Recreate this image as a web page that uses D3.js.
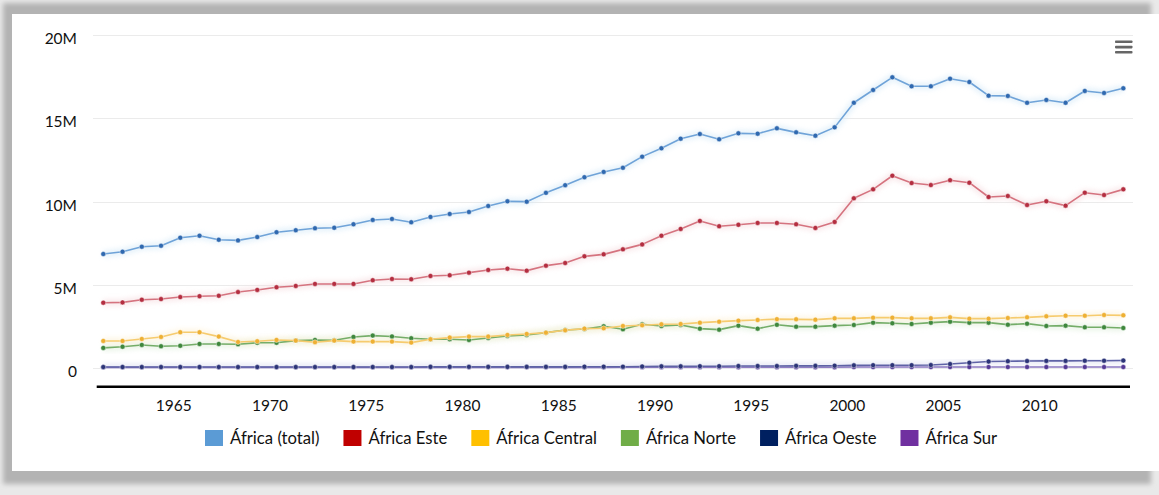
<!DOCTYPE html>
<html>
<head>
<meta charset="utf-8">
<script src="https://cdn.jsdelivr.net/npm/d3@7"></script>
<style>
  html, body { margin: 0; padding: 0; background: #e8e8e8; }
  svg { display: block; font-family: Lato, "Open Sans", sans-serif; }
</style>
</head>
<body>
<svg id="chart" width="1159" height="495"></svg>
<script>
// Years on the x axis
const years = d3.range(1961, 2015);
const xTickYears = [1965, 1970, 1975, 1980, 1985, 1990, 1995, 2000, 2005, 2010];
const yTickValues = [0, 5e6, 10e6, 15e6, 20e6];

// Series values, millions
const africaTotal = [6.84, 6.98, 7.28, 7.34, 7.82, 7.94, 7.70, 7.66, 7.86, 8.15,
  8.27, 8.39, 8.42, 8.63, 8.89, 8.95, 8.75, 9.07, 9.25, 9.37,
  9.73, 10.01, 9.99, 10.52, 10.98, 11.46, 11.78, 12.03, 12.70, 13.20,
  13.78, 14.06, 13.74, 14.10, 14.08, 14.40, 14.16, 13.96, 14.46, 15.94,
  16.71, 17.47, 16.93, 16.93, 17.39, 17.19, 16.37, 16.35, 15.94, 16.11,
  15.94, 16.65, 16.53, 16.81];
const africaEste = [3.91, 3.93, 4.09, 4.13, 4.25, 4.30, 4.33, 4.55, 4.68, 4.84,
  4.92, 5.04, 5.04, 5.04, 5.26, 5.34, 5.32, 5.52, 5.56, 5.72,
  5.88, 5.96, 5.84, 6.14, 6.30, 6.70, 6.82, 7.12, 7.42, 7.94,
  8.35, 8.83, 8.51, 8.60, 8.71, 8.71, 8.63, 8.41, 8.77, 10.19,
  10.73, 11.55, 11.11, 10.99, 11.28, 11.13, 10.27, 10.33, 9.79, 10.01,
  9.75, 10.53, 10.39, 10.73];
const africaCentral = [1.61, 1.61, 1.73, 1.85, 2.13, 2.13, 1.87, 1.55, 1.59, 1.67,
  1.63, 1.53, 1.63, 1.57, 1.57, 1.57, 1.51, 1.71, 1.81, 1.87,
  1.87, 1.97, 2.03, 2.11, 2.25, 2.35, 2.37, 2.51, 2.55, 2.61,
  2.63, 2.71, 2.77, 2.83, 2.87, 2.92, 2.91, 2.89, 2.97, 2.97,
  3.01, 3.01, 2.97, 2.97, 3.03, 2.95, 2.95, 2.99, 3.03, 3.09,
  3.13, 3.13, 3.17, 3.15];
const africaNorte = [1.19, 1.26, 1.37, 1.29, 1.32, 1.43, 1.43, 1.41, 1.50, 1.50,
  1.63, 1.67, 1.65, 1.85, 1.93, 1.88, 1.77, 1.71, 1.71, 1.67,
  1.79, 1.91, 1.97, 2.11, 2.27, 2.33, 2.49, 2.31, 2.61, 2.51,
  2.57, 2.35, 2.29, 2.53, 2.35, 2.58, 2.47, 2.47, 2.53, 2.57,
  2.71, 2.67, 2.63, 2.71, 2.77, 2.71, 2.71, 2.59, 2.65, 2.51,
  2.53, 2.43, 2.43, 2.39];
const africaOeste = [0.04, 0.04, 0.04, 0.04, 0.04, 0.04, 0.04, 0.04, 0.04, 0.04,
  0.04, 0.04, 0.04, 0.04, 0.04, 0.04, 0.04, 0.05, 0.05, 0.05,
  0.05, 0.05, 0.05, 0.05, 0.05, 0.06, 0.06, 0.06, 0.07, 0.08,
  0.08, 0.09, 0.09, 0.10, 0.10, 0.10, 0.11, 0.11, 0.12, 0.14,
  0.15, 0.15, 0.15, 0.16, 0.22, 0.30, 0.37, 0.39, 0.40, 0.41,
  0.41, 0.42, 0.42, 0.43];
const africaSur = [0.02, 0.02, 0.02, 0.02, 0.02, 0.02, 0.02, 0.02, 0.02, 0.02,
  0.02, 0.02, 0.02, 0.02, 0.02, 0.02, 0.02, 0.02, 0.02, 0.02,
  0.02, 0.02, 0.02, 0.02, 0.02, 0.02, 0.02, 0.03, 0.03, 0.03,
  0.03, 0.03, 0.03, 0.03, 0.03, 0.03, 0.03, 0.03, 0.03, 0.04,
  0.04, 0.04, 0.04, 0.04, 0.04, 0.04, 0.04, 0.04, 0.04, 0.04,
  0.04, 0.04, 0.04, 0.04];

const seriesNames = ["África (total)", "África Este", "África Central", "África Norte", "África Oeste", "África Sur"];
const seriesValues = [africaTotal, africaEste, africaCentral, africaNorte, africaOeste, africaSur];
const swatchColors = ["#5b9bd5", "#c00000", "#ffc000", "#70ad47", "#002060", "#7030a0"];
const lineColors = ["#6fa3d8", "#d5737f", "#f6cb6e", "#74ad68", "#5f63a6", "#8f7cc2"];
const markerColors = ["#2f69b0", "#b42e40", "#eeb033", "#3e873c", "#2c3478", "#553a96"];
const glowColors = ["#d6eaf8", "#f6dde0", "#fdf1d6", "#deeeda", "#dcdef0", "#e4ddf2"];

const svg = d3.select("#chart");

// Card with its shadow
const defs = svg.append("defs");
defs.append("filter").attr("id", "soft").attr("x", "-5%").attr("y", "-5%").attr("width", "110%").attr("height", "110%")
  .append("feGaussianBlur").attr("stdDeviation", 2.5);
defs.append("filter").attr("id", "glow").attr("x", "-5%").attr("y", "-20%").attr("width", "110%").attr("height", "140%")
  .append("feGaussianBlur").attr("stdDeviation", 2.5);

svg.append("rect").attr("x", 0).attr("y", 0).attr("width", 1159).attr("height", 495).attr("fill", "#e9e9e9");
svg.append("rect").attr("x", 3).attr("y", 3).attr("width", 1148).attr("height", 481)
  .attr("fill", "#b3b3b3").attr("filter", "url(#soft)");
svg.append("rect").attr("x", 12).attr("y", 14).attr("width", 1150).attr("height", 457).attr("fill", "#ffffff");

// Scales
const x = d3.scaleLinear().domain([1961, 2014]).range([103.3, 1123.3]);
const y = d3.scaleLinear().domain([0, 20e6]).range([367.7, 35.3]);

// Horizontal grid
svg.append("g").selectAll("line").data(yTickValues).join("line")
  .attr("x1", 93).attr("x2", 1133)
  .attr("y1", d => Math.round(y(d)) + 0.5).attr("y2", d => Math.round(y(d)) + 0.5)
  .attr("stroke", "#ebebeb").attr("stroke-width", 1.2);

// Y axis labels
const yAxis = svg.append("g").attr("transform", "translate(77,0)")
  .call(d3.axisLeft(y).tickValues(yTickValues).tickSize(0).tickPadding(0)
    .tickFormat(d => d === 0 ? "0" : (d / 1e6) + "M"));
yAxis.select(".domain").remove();
yAxis.selectAll("text").attr("font-size", 15.5).attr("fill", "#111")
  .attr("font-family", "Lato, 'Open Sans', sans-serif").attr("dy", "0.55em");

// Series lines and markers
const line = d3.line().x((d, i) => x(years[i])).y(d => y(d * 1e6));
const order = [5, 4, 3, 2, 1, 0];
order.forEach(s => {
  svg.append("path").datum(seriesValues[s]).attr("d", line)
    .attr("fill", "none").attr("stroke", glowColors[s]).attr("stroke-width", 7)
    .attr("opacity", 0.6).attr("filter", "url(#glow)");
});
order.forEach(s => {
  const g = svg.append("g");
  g.append("path").datum(seriesValues[s]).attr("d", line)
    .attr("fill", "none").attr("stroke", lineColors[s]).attr("stroke-width", 1.6)
    .attr("stroke-linejoin", "round");
  g.selectAll("circle").data(seriesValues[s]).join("circle")
    .attr("cx", (d, i) => x(years[i])).attr("cy", d => y(d * 1e6))
    .attr("r", 2.5).attr("fill", markerColors[s])
    .attr("stroke", "#ffffff").attr("stroke-opacity", 0.55).attr("stroke-width", 0.8);
});

// X axis
svg.append("line").attr("x1", 96.7).attr("x2", 1130).attr("y1", 386.7).attr("y2", 386.7)
  .attr("stroke", "#000").attr("stroke-width", 2.6);
const xAxis = svg.append("g").attr("transform", "translate(0,387)")
  .call(d3.axisBottom(x).tickValues(xTickYears).tickSize(0).tickPadding(0).tickFormat(d3.format("d")));
xAxis.select(".domain").remove();
xAxis.selectAll("text").attr("font-size", 15.5).attr("fill", "#111")
  .attr("font-family", "Lato, 'Open Sans', sans-serif")
  .attr("dx", -7).attr("dy", "1.55em");

// Legend
const legend = svg.append("g").attr("font-family", "Lato, 'Open Sans', sans-serif").attr("font-size", 16.7);
let lx = 205;
seriesNames.forEach((name, s) => {
  legend.append("rect").attr("x", lx).attr("y", 430).attr("width", 18).attr("height", 16)
    .attr("fill", swatchColors[s]);
  const t = legend.append("text").attr("x", lx + 25).attr("y", 444).attr("fill", "#111").text(name);
  lx += 25 + t.node().getComputedTextLength() + 24;
});

// Menu button
svg.append("g").selectAll("rect").data([40.5, 45.8, 51]).join("rect")
  .attr("x", 1115).attr("y", d => d).attr("width", 17.5).attr("height", 2.6).attr("rx", 0.8)
  .attr("fill", "#666666");
</script>
</body>
</html>
